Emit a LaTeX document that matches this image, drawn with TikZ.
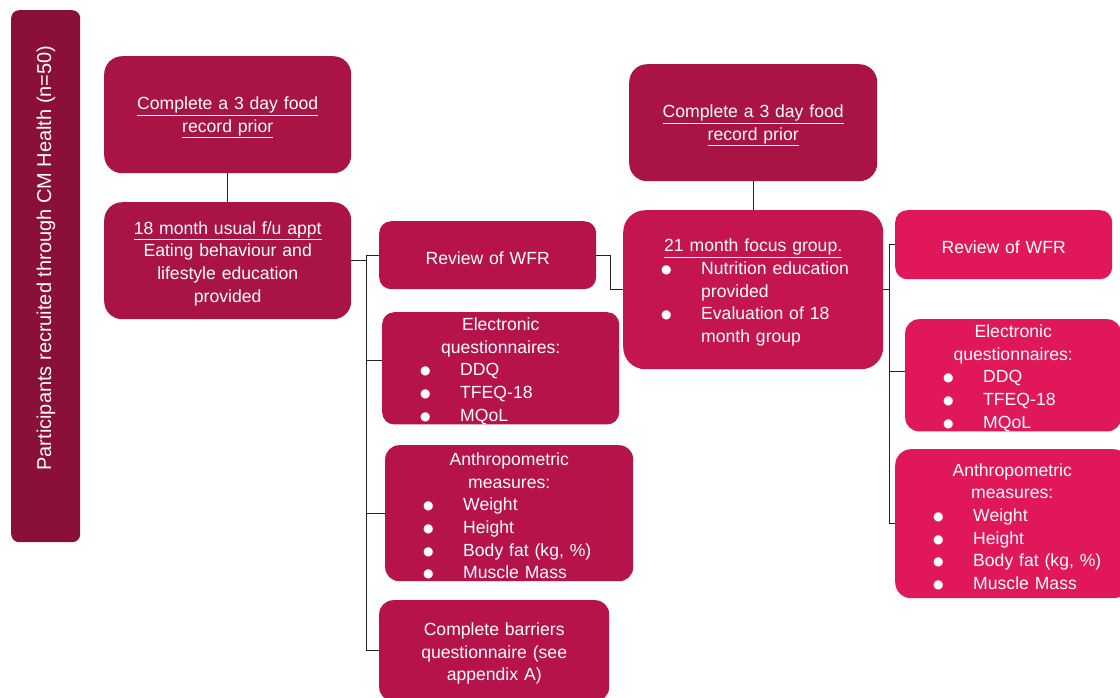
\documentclass[tikz,border=0pt]{standalone}
\usepackage{fontspec}
\setmainfont{Liberation Sans}
\newfontfamily\dejavu{DejaVu Sans}
\usetikzlibrary{calc}
\definecolor{barc}{HTML}{8A1037}
\definecolor{darkc}{HTML}{A91444}
\definecolor{midc}{HTML}{B5134A}
\definecolor{focc}{HTML}{C4154E}
\definecolor{brtc}{HTML}{E0185A}
\definecolor{linec}{HTML}{222222}
\newcommand{\dotmark}{{\dejavu\fontsize{12}{12}\selectfont\raisebox{1pt}{●}}}
\newcommand{\bul}[1]{\makebox[\linewidth][l]{\hspace*{38pt}\makebox[40pt][l]{\dotmark}#1}}
\newcommand{\cont}[1]{\makebox[\linewidth][l]{\hspace*{78pt}#1}}
\tikzset{
  box/.style={anchor=north west, inner sep=0pt, text=white, align=center,
    font=\fontsize{17.6}{22.6}\selectfont, execute at begin node={\rule{0pt}{18.5pt}}},
  conn/.style={draw=linec, line width=1.3pt},
}
\begin{document}
\begin{tikzpicture}[x=1pt,y=-1pt]
\useasboundingbox (0,0) rectangle (1120,697);
% left bar
\node[anchor=north west, inner sep=0pt, fill=barc, rounded corners=8pt, minimum width=69pt, minimum height=532pt] (bar) at (11,10) {};
\node[text=white, rotate=90, inner sep=0pt, font=\fontsize{20}{22.6}\selectfont] (bartxt) at (46,258) {Participants recruited through CM Health (n=50)};
% left column
\node[box, fill=darkc, rounded corners=18pt, minimum width=247pt, text width=247pt, minimum height=117pt] (A) at (104,56)
  {\underline{Complete a 3 day food}\\\underline{record prior}};
\node[box, fill=darkc, rounded corners=18pt, minimum width=247pt, text width=247pt, minimum height=117pt] (B) at (104,202)
  {\underline{18 month usual f/u appt}\\Eating behaviour and\\lifestyle education\\provided};
% middle column
\node[box, fill=midc, rounded corners=12pt, minimum width=217pt, text width=217pt, minimum height=68pt] (M1) at (379,221)
  {Review of WFR};
\node[box, fill=midc, rounded corners=12pt, minimum width=237pt, text width=237pt, minimum height=110pt] (M2) at (382,312)
  {Electronic\\questionnaires:\\\bul{DDQ}\\\bul{TFEQ-18}\\\bul{MQoL}};
\node[box, fill=midc, rounded corners=14pt, minimum width=248pt, text width=248pt, minimum height=136pt] (M3) at (385,445)
  {Anthropometric\\measures:\\\bul{Weight}\\\bul{Height}\\\bul{Body fat (kg, \%)}\\\bul{Muscle Mass}};
\node[box, fill=midc, rounded corners=14pt, minimum width=230pt, text width=230pt, minimum height=101pt] (M4) at (379,600)
  {Complete barriers\\questionnaire (see\\appendix A)};
% focus group column
\node[box, fill=darkc, rounded corners=18pt, minimum width=248pt, text width=248pt, minimum height=117pt] (C1) at (629,64)
  {\underline{Complete a 3 day food}\\\underline{record prior}};
\node[box, fill=focc, rounded corners=22pt, minimum width=260pt, text width=260pt, minimum height=159pt] (C2) at (623,210)
  {\underline{21 month focus group.}\\\bul{Nutrition education}\\\cont{provided}\\\bul{Evaluation of 18}\\\cont{month group}};
% right column
\node[box, fill=brtc, rounded corners=12pt, minimum width=217pt, text width=217pt, minimum height=69pt] (R1) at (895,210)
  {Review of WFR};
\node[box, fill=brtc, rounded corners=14pt, minimum width=216pt, text width=216pt, minimum height=109pt] (R2) at (905,319)
  {Electronic\\questionnaires:\\\bul{DDQ}\\\bul{TFEQ-18}\\\bul{MQoL}};
\node[box, fill=brtc, rounded corners=16pt, minimum width=234pt, text width=234pt, minimum height=149pt] (R3) at (895,449)
  {Anthropometric\\measures:\\\bul{Weight}\\\bul{Height}\\\bul{Body fat (kg, \%)}\\\bul{Muscle Mass}};
% connectors
\draw[conn] (A.south) -- (B.north);
\draw[conn] (C1.south) -- (C2.north);
\coordinate (t1) at ($(B.east)+(15,0)$);
\coordinate (m2p) at ([yshift=8pt]M2.west);
\draw[conn] (B.east) -- (t1);
\draw[conn] (t1 |- M1.west) -- (t1 |- M4.west);
\draw[conn] (t1 |- M1.west) -- (M1.west);
\draw[conn] (t1 |- m2p) -- (m2p);
\draw[conn] (t1 |- M3.west) -- (M3.west);
\draw[conn] (t1 |- M4.west) -- (M4.west);
\draw[conn] (M1.east) -- ++(14,0) |- (C2.west);
\coordinate (t2) at ($(C2.east)+(6,0)$);
\coordinate (r2p) at ([yshift=4pt]R2.west);
\draw[conn] (C2.east) -- (t2);
\draw[conn] (t2 |- R1.west) -- (t2 |- R3.west);
\draw[conn] (t2 |- R1.west) -- (R1.west);
\draw[conn] (t2 |- r2p) -- (r2p);
\draw[conn] (t2 |- R3.west) -- (R3.west);
\end{tikzpicture}
\end{document}
